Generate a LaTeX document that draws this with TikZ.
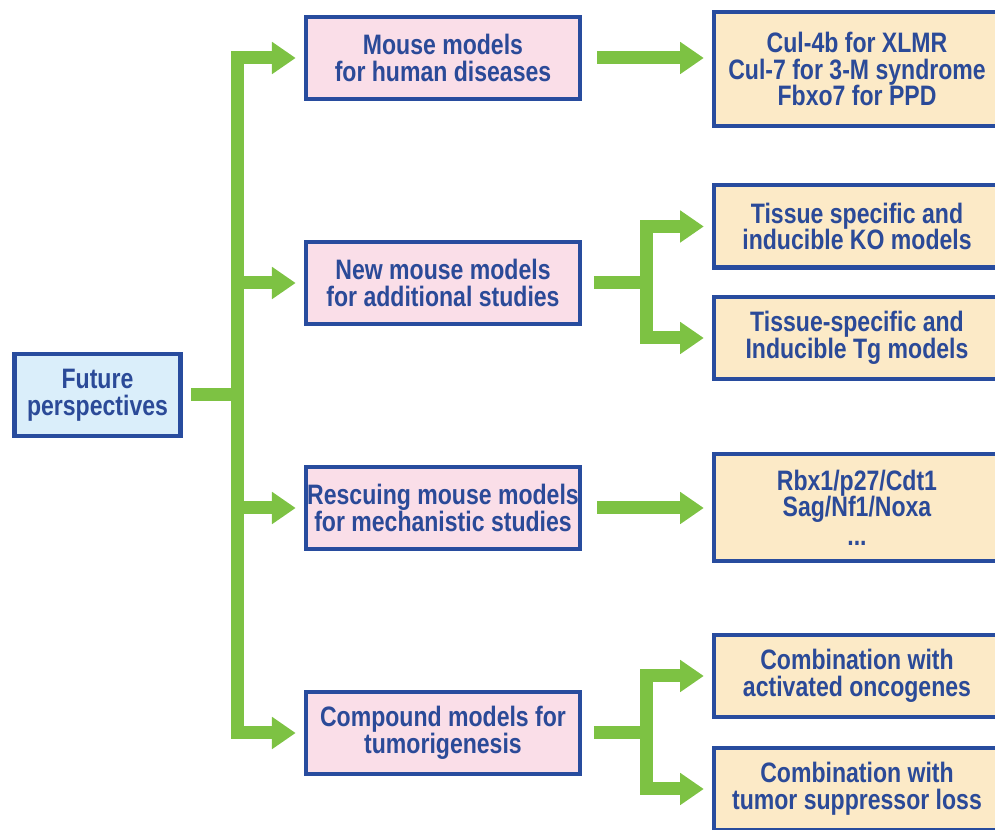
\documentclass[tikz,border=0pt]{standalone}
\usepackage{fontspec}
\newfontfamily\boxfont{Liberation Sans}[FakeStretch=0.82]
\usetikzlibrary{arrows.meta}
\definecolor{arrgreen}{RGB}{125,194,67}
\definecolor{boxblue}{RGB}{40,76,158}
\definecolor{txtblue}{RGB}{43,74,152}
\definecolor{pinkfill}{RGB}{250,222,232}
\definecolor{creamfill}{RGB}{252,234,199}
\definecolor{skyfill}{RGB}{218,238,250}

\begin{document}
\begin{tikzpicture}[x=0.02cm,y=-0.02cm,
	box/.style={draw=boxblue,line width=2.4pt,text=txtblue,align=center,inner sep=0pt,
		font=\boxfont\bfseries\fontsize{16}{15.2}\selectfont},
	midbox/.style={box,fill=pinkfill,minimum width=156.3pt,minimum height=46.8pt},
	endbox/.style={box,fill=creamfill,minimum width=163pt,minimum height=46.8pt},
	link/.style={draw=arrgreen,line width=7.4pt},
	arr/.style={link,-{Triangle[length=13.5pt,width=17.5pt]},shorten >=4.5pt}]
	\useasboundingbox (0,0) rectangle (995,830);
	% left and middle column
	\node[box,fill=skyfill,minimum width=94.5pt,minimum height=46.4pt] (fut) at (97.5,395) {Future\\perspectives};
	\node[midbox] (mm) at (443,58) {Mouse models\\for human diseases};
	\node[midbox] (nm) at (443,283) {New mouse models\\for additional studies};
	\node[midbox] (rm) at (443,508) {Rescuing mouse models\\for mechanistic studies};
	\node[midbox] (cm) at (443,733) {Compound models for\\tumorigenesis};
	% right column
	\node[endbox,minimum height=64.5pt] (cul) at (857,69) {Cul-4b for XLMR\\Cul-7 for 3-M syndrome\\Fbxo7 for PPD};
	\node[endbox] (ko) at (857,226.5) {Tissue specific and\\inducible KO models};
	\node[endbox] (tg) at (857,338) {Tissue-specific and\\Inducible Tg models};
	\node[endbox,minimum height=60.5pt] (rbx) at (857,507.5) {Rbx1/p27/Cdt1\\Sag/Nf1/Noxa\\[1pt]...};
	\node[endbox] (onc) at (857,676) {Combination with\\activated oncogenes};
	\node[endbox] (tsl) at (857,789) {Combination with\\tumor suppressor loss};
	% green connectors
	\draw[link,shorten <=5pt] (fut.east) -- (237,395) coordinate (hub);
	\foreach \m in {mm,nm,rm,cm}
		\draw[arr] (hub) |- (\m.west);
	\draw[arr,shorten <=8.5pt] (mm.east) -- (mm.east -| cul.west);
	\draw[arr,shorten <=8.5pt] (rm.east) -- (rm.east -| rbx.west);
	\draw[link,shorten <=6.5pt] (nm.east) -- (646,283) coordinate (nsplit);
	\draw[arr] (nsplit) |- (ko.west);
	\draw[arr] (nsplit) |- (tg.west);
	\draw[link,shorten <=6.5pt] (cm.east) -- (646,733) coordinate (csplit);
	\draw[arr] (csplit) |- (onc.west);
	\draw[arr] (csplit) |- (tsl.west);
\end{tikzpicture}
\end{document}
